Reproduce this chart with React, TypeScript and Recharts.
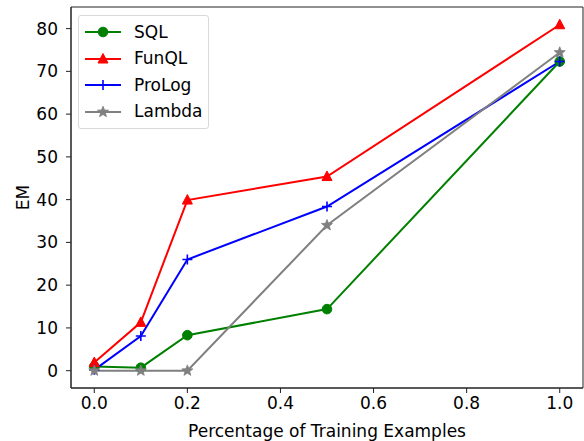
import React from "react";
import { LineChart, Line, XAxis, YAxis, Legend, ReferenceArea } from "recharts";

const fractions = [0.0, 0.1, 0.2, 0.5, 1.0];
const sqlValues = [1.0, 0.7, 8.3, 14.4, 72.3];
const funqlValues = [1.9, 11.3, 39.9, 45.4, 80.9];
const prologValues = [0.2, 8.1, 26.0, 38.4, 72.3];
const lambdaValues = [0.0, 0.0, 0.0, 34.0, 74.4];
const xTicks = [0, 0.2, 0.4, 0.6, 0.8, 1.0];
const yTicks = [0, 10, 20, 30, 40, 50, 60, 70, 80];

const data = fractions.map((f, i) => ({
  x: f,
  SQL: sqlValues[i],
  FunQL: funqlValues[i],
  ProLog: prologValues[i],
  Lambda: lambdaValues[i],
}));

const FONT = "'DejaVu Sans', sans-serif";
const FS = 17;

const GREEN = "#008000";
const RED = "#ff0000";
const BLUE = "#0000ff";
const GRAY = "#808080";

function starPath(cx: number, cy: number, R: number, r: number) {
  const pts: string[] = [];
  for (let i = 0; i < 10; i++) {
    const rad = i % 2 === 0 ? R : r;
    const a = -Math.PI / 2 + (i * Math.PI) / 5;
    pts.push(`${cx + rad * Math.cos(a)},${cy + rad * Math.sin(a)}`);
  }
  return "M" + pts.join("L") + "Z";
}

const Marker = ({ kind, cx, cy }: { kind: string; cx: number; cy: number }) => {
  if (kind === "circle") return <circle cx={cx} cy={cy} r={4.8} fill={GREEN} stroke={GREEN} />;
  if (kind === "triangle")
    return (
      <path
        d={`M${cx},${cy - 5.5}L${cx + 5},${cy + 4}L${cx - 5},${cy + 4}Z`}
        fill={RED}
        stroke={RED}
      />
    );
  if (kind === "plus")
    return (
      <path
        d={`M${cx - 5},${cy}L${cx + 5},${cy}M${cx},${cy - 5}L${cx},${cy + 5}`}
        stroke={BLUE}
        strokeWidth={1.6}
        fill="none"
      />
    );
  return <path d={starPath(cx, cy, 5.8, 2.5)} fill={GRAY} stroke={GRAY} strokeWidth={0.8} />;
};

const makeDot = (kind: string) => (props: any) => {
  const { cx, cy, index } = props;
  if (cx == null || cy == null) return <g key={`n-${kind}-${index}`} />;
  return (
    <g key={`${kind}-${index}`}>
      <Marker kind={kind} cx={cx} cy={cy} />
    </g>
  );
};

const legendItems = [
  { name: "SQL", color: GREEN, kind: "circle" },
  { name: "FunQL", color: RED, kind: "triangle" },
  { name: "ProLog", color: BLUE, kind: "plus" },
  { name: "Lambda", color: GRAY, kind: "star" },
];

const LegendContent = () => (
  <div
    style={{
      border: "1px solid #d9d9d9",
      borderRadius: 3,
      background: "rgba(255,255,255,0.8)",
      padding: "3px 6px 3px 5px",
      width: 118,
      fontFamily: FONT,
      fontSize: FS,
      lineHeight: 1,
    }}
  >
    {legendItems.map((it) => (
      <div key={it.name} style={{ display: "flex", alignItems: "center", height: 26.5 }}>
        <svg width={38} height={14} style={{ marginRight: 12, flex: "none" }}>
          <line x1={1} y1={7} x2={37} y2={7} stroke={it.color} strokeWidth={2} />
          <Marker kind={it.kind} cx={19} cy={7} />
        </svg>
        <span style={{ color: "#000" }}>{it.name}</span>
      </div>
    ))}
  </div>
);

export default function App() {
  return (
    <div style={{ position: "absolute", left: 0, top: 0, background: "#fff" }}>
      <LineChart
        width={584}
        height={441}
        data={data}
        margin={{ top: 7, right: 1, bottom: 0, left: 0 }}
      >
        <XAxis
          dataKey="x"
          type="number"
          domain={[-0.05, 1.05]}
          ticks={xTicks}
          allowDataOverflow
          tickFormatter={(v: number) => v.toFixed(1)}
          tickSize={5}
          tickMargin={4}
          stroke="#222"
          tick={{ fill: "#000", fontSize: FS, fontFamily: FONT }}
          height={53}
          label={{
            value: "Percentage of Training Examples",
            position: "insideBottom",
            offset: 4,
            fill: "#000",
            fontSize: FS,
            fontFamily: FONT,
          }}
        />
        <YAxis
          type="number"
          domain={[-4.05, 85.05]}
          ticks={yTicks}
          allowDataOverflow
          tickSize={5}
          tickMargin={8}
          width={71}
          stroke="#222"
          tick={{ fill: "#000", fontSize: FS, fontFamily: FONT }}
          label={{
            value: "EM",
            angle: -90,
            position: "insideLeft",
            offset: 23,
            fill: "#000",
            fontSize: FS,
            fontFamily: FONT,
            style: { textAnchor: "middle" },
          }}
        />
        <ReferenceArea
          x1={-0.05}
          x2={1.05}
          y1={-4.05}
          y2={85.05}
          fill="none"
          stroke="#222"
          strokeWidth={1}
          ifOverflow="visible"
        />
        <Legend
          layout="vertical"
          align="center"
          verticalAlign="middle"
          content={<LegendContent />}
          wrapperStyle={{ position: "absolute", left: 78, top: 15, width: "auto", height: "auto" }}
        />
        <Line dataKey="SQL" stroke={GREEN} strokeWidth={2} dot={makeDot("circle")} isAnimationActive={false} />
        <Line dataKey="FunQL" stroke={RED} strokeWidth={2} dot={makeDot("triangle")} isAnimationActive={false} />
        <Line dataKey="ProLog" stroke={BLUE} strokeWidth={2} dot={makeDot("plus")} isAnimationActive={false} />
        <Line dataKey="Lambda" stroke={GRAY} strokeWidth={2} dot={makeDot("star")} isAnimationActive={false} />
      </LineChart>
    </div>
  );
}
